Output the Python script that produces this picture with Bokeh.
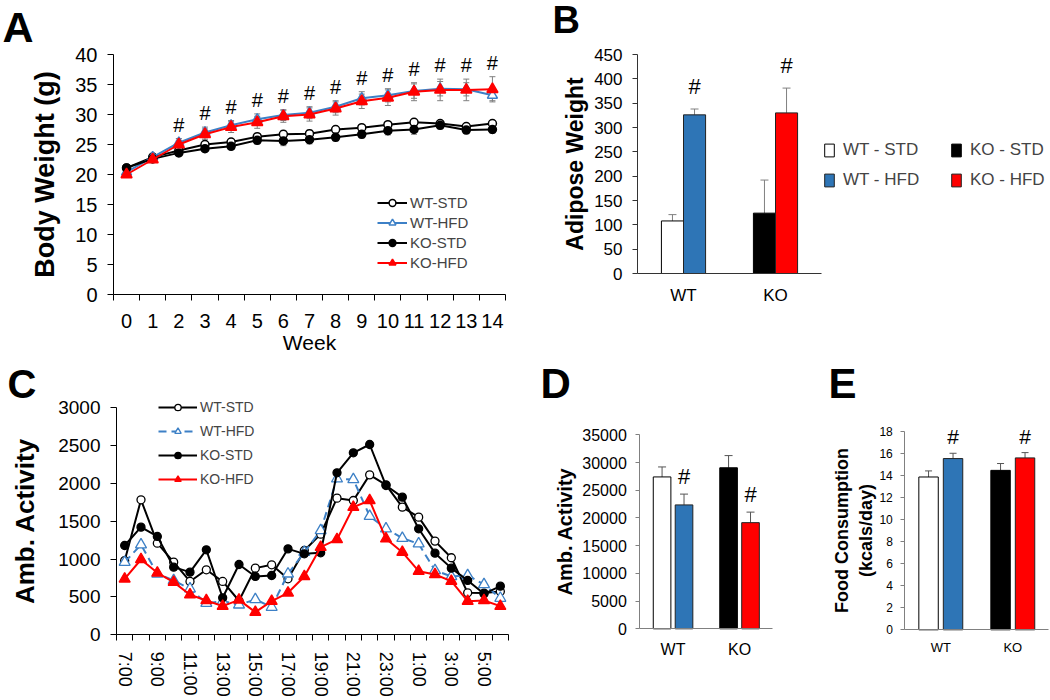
from bokeh.plotting import figure
from bokeh.models import (Range1d, FixedTicker, CustomJSTickFormatter, Legend, LegendItem,
                          Whisker, TeeHead, ColumnDataSource, Label, LinearAxis)
from bokeh.layouts import row, column
from bokeh.core.properties import value
from bokeh.embed import file_html
from bokeh.resources import INLINE

FONT = "Liberation Sans"
BLUE = "#2E75B6"
LBLUE = "#3D80C6"
RED = "#FF0000"
GREY = "#808080"

# ---------------- data ----------------
weeks = list(range(15))
wt_std = [21.1, 22.9, 24.0, 25.0, 25.4, 26.3, 26.7, 26.8, 27.5, 27.8, 28.3, 28.7, 28.5, 28.0, 28.5]
wt_hfd = [20.4, 22.9, 25.3, 27.0, 28.2, 29.2, 29.9, 30.3, 31.3, 32.7, 33.2, 33.9, 34.3, 34.2, 33.2]
ko_std = [21.1, 22.6, 23.6, 24.3, 24.7, 25.7, 25.6, 25.8, 26.2, 26.7, 27.3, 27.5, 28.2, 27.4, 27.5]
ko_hfd = [20.0, 22.5, 25.0, 26.7, 27.9, 28.7, 29.7, 30.0, 31.0, 32.2, 32.8, 33.8, 34.1, 34.1, 34.2]
wt_std_err = [0.3, 0.3, 0.4, 0.5, 0.5, 0.5, 0.6, 0.6, 0.5, 0.5, 0.5, 0.5, 0.5, 0.5, 0.5]
wt_hfd_err = [0.4, 0.5, 0.7, 0.9, 0.8, 0.9, 0.9, 1.0, 1.0, 1.1, 1.1, 1.2, 1.2, 1.1, 0.9]
ko_std_err = [0.3, 0.3, 0.4, 0.5, 0.5, 0.6, 0.8, 0.7, 0.6, 0.6, 0.7, 0.8, 0.6, 0.6, 0.6]
ko_hfd_err = [0.4, 0.5, 0.7, 0.9, 0.9, 1.0, 1.0, 1.1, 1.1, 1.2, 1.3, 1.5, 1.8, 1.8, 2.1]
sig_weeks = list(range(2, 15))

groups = ["WT", "KO"]
adip_std = [108, 124]
adip_hfd = [326, 330]
adip_std_err = [13, 68]
adip_hfd_err = [12, 51]

hour_labels = ["7:00", "8:00", "9:00", "10:00", "11:00", "12:00", "13:00", "14:00", "15:00",
               "16:00", "17:00", "18:00", "19:00", "20:00", "21:00", "22:00", "23:00", "0:00",
               "1:00", "2:00", "3:00", "4:00", "5:00", "6:00"]
act_wt_std = [980, 1784, 1211, 960, 705, 859, 705, 450, 881, 925, 740, 1114, 1330, 1806, 1775,
              2114, 1982, 1687, 1555, 1238, 1018, 555, 551, 573]
act_wt_hfd = [960, 1190, 806, 718, 608, 418, 445, 396, 467, 366, 806, 1092, 1379, 2062, 2053,
              1568, 1401, 1277, 1203, 850, 771, 784, 665, 485]
act_ko_std = [1180, 1423, 1300, 894, 828, 1123, 489, 929, 771, 784, 1136, 1070, 1084, 2141, 2405,
              2515, 1973, 1819, 1401, 1079, 881, 718, 542, 643]
act_ko_hfd = [740, 995, 819, 696, 529, 454, 379, 462, 300, 445, 555, 771, 1158, 1260, 1687, 1775,
              1269, 1092, 841, 797, 709, 445, 454, 379]

tot_std = [27400, 29050]
tot_hfd = [22350, 19150]
tot_std_err = [1800, 2200]
tot_hfd_err = [1950, 1900]

food_std = [13.85, 14.45]
food_hfd = [15.52, 15.58]
food_std_err = [0.55, 0.62]
food_hfd_err = [0.48, 0.48]


# ---------------- helpers ----------------
def make_fig(w, h, px, xv, py, yv):
    """px: pixel columns (from canvas left) of data xv; py: pixel rows (from canvas top)
    of data yv = (bottom value, top value). The frame fills the whole canvas."""
    sx = (px[1] - px[0]) / (xv[1] - xv[0])
    sy = (py[0] - py[1]) / (yv[1] - yv[0])
    xr = Range1d(xv[0] - px[0] / sx, xv[1] + (w - px[1]) / sx)
    yr = Range1d(yv[0] - (h - py[0]) / sy, yv[1] + py[1] / sy)
    p = figure(width=w, height=h, x_range=xr, y_range=yr, x_axis_type=None, y_axis_type=None,
               output_backend="svg", toolbar_location=None, min_border=0)
    p.outline_line_color = None
    p.background_fill_color = "white"
    p.border_fill_color = "white"
    return p


def make_axis(loc, bounds, ticks, size, tick_out, standoff, color="black", minor=None):
    ax = LinearAxis(fixed_location=loc, bounds=bounds,
                    ticker=FixedTicker(ticks=ticks, minor_ticks=minor or []))
    ax.axis_line_color = color
    ax.axis_line_width = 1
    ax.major_tick_line_color = color if tick_out > 0 else None
    ax.major_tick_out = tick_out
    ax.major_tick_in = 0
    if minor:
        ax.minor_tick_line_color = color
        ax.minor_tick_out = 6
        ax.minor_tick_in = 0
    else:
        ax.minor_tick_line_color = None
    ax.major_label_text_font = FONT
    ax.major_label_text_font_size = f"{size}px"
    ax.major_label_text_color = "black"
    ax.major_label_standoff = standoff
    ax.axis_label_text_font = FONT
    ax.axis_label_text_font_style = "bold"
    ax.axis_label_text_color = "black"
    return ax


def letter(p, txt, x, y, size):
    p.add_layout(Label(x=x, y=y, x_units="screen", y_units="screen", text=txt,
                       text_font=FONT, text_font_style="bold", text_font_size=f"{size}px",
                       text_align="left", text_baseline="alphabetic", text_color="black"))


def group_formatter(pos):
    return CustomJSTickFormatter(args=dict(labels=groups, pos=pos),
                                 code="const i = pos.indexOf(tick); return i >= 0 ? labels[i] : '';")


def bar_panel(p, pos, off, width, std, hfd, std_err, hfd_err, err_color, head):
    x_std = [g - off for g in pos]
    x_hfd = [g + off for g in pos]
    src_std = ColumnDataSource(dict(x=x_std, top=std, upper=[v + e for v, e in zip(std, std_err)],
                                    color=["white", "black"]))
    src_hfd = ColumnDataSource(dict(x=x_hfd, top=hfd, upper=[v + e for v, e in zip(hfd, hfd_err)],
                                    color=[BLUE, RED]))
    for src in (src_std, src_hfd):
        p.add_layout(Whisker(source=src, base="x", lower="top", upper="upper",
                             line_color=err_color, line_width=1, lower_head=None,
                             upper_head=TeeHead(size=head, line_color=err_color, line_width=1)))
    r_std = p.vbar(x="x", top="top", width=width, bottom=0, source=src_std,
                   fill_color="color", line_color="black", line_width=1)
    r_hfd = p.vbar(x="x", top="top", width=width, bottom=0, source=src_hfd,
                   fill_color="color", line_color="#222222", line_width=1)
    return x_hfd, r_std, r_hfd


# ================= Panel A =================
pA = make_fig(520, 355, (113, 505), (-0.5, 14.5), (294, 54), (0, 40))
yA = make_axis(-0.5, (0, 40), list(range(0, 41, 5)), 20, 6, 10)
yA.axis_label = "Body Weight (g)"
yA.axis_label_text_font_size = "27px"
yA.axis_label_standoff = 12
pA.add_layout(yA, "left")
xA = make_axis(0, (-0.5, 14.5), weeks, 20, 0, 13,
               minor=[w - 0.5 for w in weeks] + [weeks[-1] + 0.5])
xA.axis_label = "Week"
xA.axis_label_text_font_style = "normal"
xA.axis_label_text_font_size = "21px"
xA.axis_label_standoff = 0
pA.add_layout(xA, "below")

seriesA = [
    ("WT-STD", wt_std, wt_std_err, "black", "circle", "white", "black", 8),
    ("WT-HFD", wt_hfd, wt_hfd_err, LBLUE, "triangle", "white", LBLUE, 10),
    ("KO-STD", ko_std, ko_std_err, "black", "circle", "black", "black", 8),
    ("KO-HFD", ko_hfd, ko_hfd_err, RED, "triangle", RED, RED, 11),
]
itemsA = []
for name, ys, es, lc, mk, fc, mc, sz in seriesA:
    src = ColumnDataSource(dict(x=weeks, y=ys, lower=[v - e for v, e in zip(ys, es)],
                                upper=[v + e for v, e in zip(ys, es)]))
    pA.add_layout(Whisker(source=src, base="x", lower="lower", upper="upper", line_color=GREY,
                          line_width=1,
                          upper_head=TeeHead(size=6, line_color=GREY, line_width=1),
                          lower_head=TeeHead(size=6, line_color=GREY, line_width=1)))
    ln = pA.line("x", "y", source=src, line_color=lc, line_width=2)
    sc = pA.scatter("x", "y", source=src, marker=mk, size=sz, fill_color=fc, line_color=mc,
                    line_width=1.5)
    itemsA.append(LegendItem(label=name, renderers=[ln, sc]))

tops = [max(a + b, c + d) for a, b, c, d in zip(wt_hfd, wt_hfd_err, ko_hfd, ko_hfd_err)]
pA.text(x=sig_weeks, y=[tops[w] + 2.3 for w in sig_weeks], text=["#"] * len(sig_weeks),
        text_font=value(FONT), text_font_size="20px", text_align="center",
        text_baseline="middle", text_color="black")
legA = Legend(items=itemsA, location=(377, 84), orientation="vertical", glyph_width=30,
              glyph_height=17, label_height=17, spacing=3, padding=0, margin=0,
              label_standoff=3, label_text_font=FONT, label_text_font_size="15px",
              border_line_color=None, background_fill_alpha=0)
pA.add_layout(legA)
letter(pA, "A", 2, 329, 43)

# ================= Panel B =================
gpos = [0.5, 1.5]
pB = make_fig(530, 355, (117, 301), (0, 2), (273, 54), (0, 450))
yB = make_axis(0, (0, 450), list(range(0, 451, 50)), 17, 5, 10, "#333333")
yB.axis_label = "Adipose Weight"
yB.axis_label_text_font_size = "23px"
yB.axis_label_standoff = 3
pB.add_layout(yB, "left")
xB = make_axis(0, (0, 2), gpos, 17, 0, 12, "#333333")
xB.formatter = group_formatter(gpos)
pB.add_layout(xB, "below")
xh, rbs, rbh = bar_panel(pB, gpos, 0.12, 0.24, adip_std, adip_hfd, adip_std_err, adip_hfd_err,
                         GREY, 8)
pB.text(x=xh, y=[v + e + 47 for v, e in zip(adip_hfd, adip_hfd_err)], text=["#", "#"],
        text_font=value(FONT), text_font_size="22px", text_align="center",
        text_baseline="middle", text_color="black")
legB_kw = dict(orientation="vertical", glyph_width=12, glyph_height=16, label_height=16,
               spacing=10, padding=0, margin=0, label_standoff=8, label_text_font=FONT,
               label_text_font_size="17px", border_line_color=None, background_fill_alpha=0)
legB1 = Legend(items=[LegendItem(label="WT - STD", renderers=[rbs], index=0),
                      LegendItem(label="WT - HFD", renderers=[rbh], index=0)],
               location=(303, 165), **legB_kw)
legB2 = Legend(items=[LegendItem(label="KO - STD", renderers=[rbs], index=1),
                      LegendItem(label="KO - HFD", renderers=[rbh], index=1)],
               location=(430, 165), **legB_kw)
pB.add_layout(legB1)
pB.add_layout(legB2)
letter(pB, "B", 32, 336, 38)

# ================= Panel C =================
nC = len(hour_labels)
idx = list(range(nC))
pC = make_fig(530, 345, (116, 508), (-0.5, nC - 0.5), (279.3, 52.3), (0, 3000))
yC = make_axis(-0.5, (0, 3000), list(range(0, 3001, 500)), 19, 6, 10)
yC.axis_label = "Amb. Activity"
yC.axis_label_text_font_size = "26px"
yC.axis_label_standoff = 15
pC.add_layout(yC, "left")
xC = make_axis(0, (-0.5, nC - 0.5), idx[::2], 18, 0, 11,
               minor=[i - 0.5 for i in idx] + [nC - 0.5])
xC.formatter = CustomJSTickFormatter(
    args=dict(labels=hour_labels),
    code="const i = Math.round(tick); return (i >= 0 && i < labels.length) ? labels[i] : '';")
xC.major_label_orientation = "vertical"
pC.add_layout(xC, "below")

seriesC = [
    ("WT-STD", act_wt_std, "black", "solid", "circle", "white", "black", 8),
    ("WT-HFD", act_wt_hfd, LBLUE, "8 5", "triangle", "white", LBLUE, 11),
    ("KO-STD", act_ko_std, "black", "solid", "circle", "black", "black", 8),
    ("KO-HFD", act_ko_hfd, RED, "solid", "triangle", RED, RED, 11),
]
itemsC = []
for name, ys, lc, dash, mk, fc, mc, sz in seriesC:
    src = ColumnDataSource(dict(x=idx, y=ys))
    ln = pC.line("x", "y", source=src, line_color=lc, line_width=2, line_dash=dash)
    sc = pC.scatter("x", "y", source=src, marker=mk, size=sz, fill_color=fc, line_color=mc,
                    line_width=1.3)
    itemsC.append(LegendItem(label=name, renderers=[ln, sc]))
legC = Legend(items=itemsC, location=(158, 213), orientation="vertical", glyph_width=39,
              glyph_height=16, label_height=16, spacing=8, padding=0, margin=0,
              label_standoff=3, label_text_font=FONT, label_text_font_size="14px",
              border_line_color=None, background_fill_alpha=0)
pC.add_layout(legC)
letter(pC, "C", 7, 317, 40)

# ================= Panel D =================
pD = make_fig(270, 345, (109.3, 242.3), (0, 2), (273.3, 79.3), (0, 35000))
yD = make_axis(0, (0, 35000), list(range(0, 35001, 5000)), 16, 4, 9, GREY)
yD.axis_label = "Amb. Activity"
yD.axis_label_text_font_size = "20px"
yD.axis_label_standoff = 3
pD.add_layout(yD, "left")
xD = make_axis(0, (0, 2), gpos, 16, 0, 12, GREY)
xD.formatter = group_formatter(gpos)
pD.add_layout(xD, "below")
xh, _, _ = bar_panel(pD, gpos, 0.165, 0.265, tot_std, tot_hfd, tot_std_err, tot_hfd_err,
                     "#555555", 8)
pD.text(x=xh, y=[v + e + 3200 for v, e in zip(tot_hfd, tot_hfd_err)], text=["#", "#"],
        text_font=value(FONT), text_font_size="22px", text_align="center",
        text_baseline="middle", text_color="black")
letter(pD, "D", 10, 317, 42)

# ================= Panel E =================
pE = make_fig(250, 345, (104.3, 248.3), (0, 2), (274.3, 75.7), (0, 18))
yE = make_axis(0, (0, 18), list(range(0, 19, 2)), 12, 4, 8, GREY)
yE.axis_label = "Food Consumption\n(kcals/day)"
yE.axis_label_text_font_size = "18px"
yE.axis_label_standoff = 0
pE.add_layout(yE, "left")
xE = make_axis(0, (0, 2), gpos, 13, 0, 10, GREY)
xE.formatter = group_formatter(gpos)
pE.add_layout(xE, "below")
xh, _, _ = bar_panel(pE, gpos, 0.17, 0.27, food_std, food_hfd, food_std_err, food_hfd_err,
                     "#555555", 7)
pE.text(x=xh, y=[v + e + 1.5 for v, e in zip(food_hfd, food_hfd_err)], text=["#", "#"],
        text_font=value(FONT), text_font_size="21px", text_align="center",
        text_baseline="middle", text_color="black")
letter(pE, "E", 28, 317, 42)

layout = column(row(pA, pB), row(pC, pD, pE))
open("out.html", "w").write(file_html(layout, INLINE))
